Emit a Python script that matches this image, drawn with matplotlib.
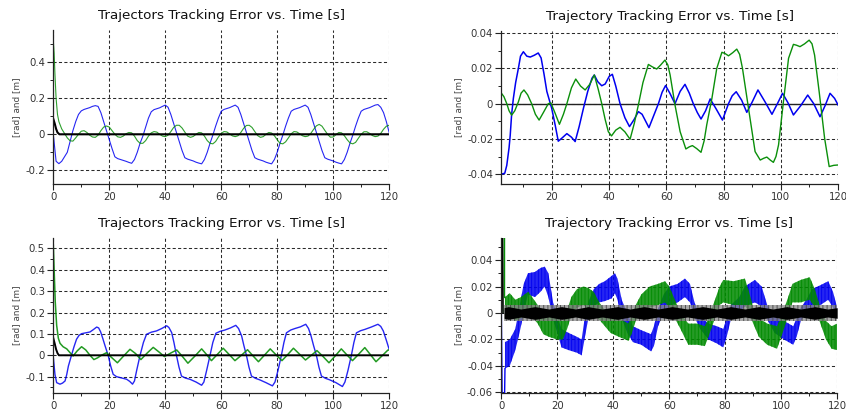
import numpy as np
import matplotlib
matplotlib.use("Agg")
import matplotlib.pyplot as plt
from matplotlib.ticker import MultipleLocator, FuncFormatter

plt.rcParams['font.family'] = ['DejaVu Sans']
plt.rcParams['axes.unicode_minus'] = False
plt.rcParams['hatch.linewidth'] = 0.6

TITLE_L = "Trajectors Tracking Error vs. Time [s]"
TITLE_R = "Trajectory Tracking Error vs. Time [s]"
YLABEL = "[rad] and [m]"

# ---------------- top-left panel ----------------
tl_blue_t = list(range(0, 121))
tl_blue_v = [0.0, -0.15, -0.163, -0.15, -0.125, -0.10, -0.04, 0.02, 0.07, 0.11,
             0.13, 0.138, 0.143, 0.148, 0.155, 0.159, 0.155, 0.12, 0.07, 0.02,
             -0.03, -0.08, -0.125, -0.135, -0.14, -0.145, -0.15, -0.156, -0.161, -0.14,
             -0.10, -0.05, -0.01, 0.04, 0.09, 0.125, 0.137, 0.142, 0.147, 0.155,
             0.162, 0.15, 0.11, 0.06, 0.01, -0.04, -0.09, -0.13, -0.138, -0.143,
             -0.148, -0.155, -0.16, -0.164, -0.14, -0.10, -0.05, -0.005, 0.045, 0.09,
             0.128, 0.138, 0.143, 0.148, 0.155, 0.162, 0.15, 0.11, 0.06, 0.01,
             -0.04, -0.09, -0.13, -0.138, -0.143, -0.148, -0.155, -0.16, -0.164, -0.14,
             -0.10, -0.05, -0.005, 0.045, 0.09, 0.128, 0.138, 0.143, 0.148, 0.155,
             0.162, 0.15, 0.11, 0.06, 0.01, -0.04, -0.09, -0.13, -0.138, -0.143,
             -0.148, -0.155, -0.16, -0.164, -0.14, -0.10, -0.05, -0.005, 0.045, 0.09,
             0.128, 0.138, 0.143, 0.148, 0.155, 0.162, 0.165, 0.15, 0.12, 0.07, 0.01]

tl_green_t = [0, 0.3, 0.6, 1.0, 1.5, 2] + list(range(3, 121))
tl_green_v = [0.52, 0.45, 0.33, 0.2, 0.11, 0.07,
              0.03, 0.005, -0.02, -0.036, -0.038, -0.02, 0.0, 0.017, 0.02, 0.01,
              -0.005, -0.015, -0.017, -0.005, 0.02, 0.04, 0.046, 0.04, 0.02, 0.0,
              -0.014, -0.017, -0.01, 0.003, 0.01, 0.008, -0.01, -0.035, -0.05, -0.05,
              -0.035, -0.01, 0.008, 0.015, 0.012, 0.0, -0.01, -0.013, -0.005, 0.015,
              0.038, 0.05, 0.05, 0.035, 0.012, -0.01, -0.017, -0.012, 0.0, 0.01,
              0.008, -0.01, -0.035, -0.05, -0.053, -0.04, -0.015, 0.005, 0.015, 0.013,
              0.002, -0.009, -0.013, -0.008, 0.01, 0.033, 0.049, 0.05, 0.038, 0.015,
              -0.007, -0.017, -0.013, 0.0, 0.01, 0.007, -0.008, -0.03, -0.05, -0.053,
              -0.042, -0.02, 0.003, 0.015, 0.013, 0.003, -0.008, -0.013, -0.01, 0.005,
              0.027, 0.047, 0.055, 0.045, 0.022, 0.0, -0.016, -0.015, -0.002, 0.01,
              0.008, -0.008, -0.03, -0.048, -0.053, -0.045, -0.022, 0.0, 0.014, 0.014,
              0.005, -0.007, -0.013, -0.01, 0.005, 0.028, 0.045, 0.05]

tl_black_t = [0, 0.5, 1.0, 1.5, 2.2, 120]
tl_black_v = [0.085, 0.06, 0.03, 0.01, 0.0, 0.0]

# ---------------- top-right panel ----------------
tr_blue_t = [2.3, 3.5, 4.2, 5.0, 5.4, 5.9, 6.5, 7.3, 8.25, 9.0, 10.0, 11.2, 12.4, 13.8, 15.2,
             16.2, 17.2, 18.2, 19.9, 21.1, 22.2, 23.5, 25.2, 26.8, 28.1, 29.5, 31.0, 32.5,
             34.0, 34.8, 36.0, 37.4, 38.6, 40.0, 41.1, 42.3, 43.8, 45.5, 47.1, 48.7, 50.2,
             51.5, 53.9, 55.5, 57.2, 58.5, 59.7, 61.2, 63.0, 64.8, 66.5, 68.0, 69.4, 70.8,
             72.1, 73.7, 75.3, 77.4, 79.6, 81.7, 83.0, 84.4, 86.3, 88.1, 90.0, 92.0, 94.5,
             96.9, 98.8, 100.6, 102.5, 104.4, 107.0, 109.4, 111.5, 113.7, 115.5, 117.2,
             118.8, 120.0]
tr_blue_v = [-0.040, -0.0395, -0.035, -0.025, -0.018, -0.006, 0.003, 0.012, 0.020, 0.027,
             0.0295, 0.027, 0.0265, 0.0275, 0.0288, 0.026, 0.017, 0.007, -0.0026, -0.012,
             -0.0213, -0.0195, -0.017, -0.019, -0.0215, -0.013, -0.0026, 0.007, 0.0145,
             0.0163, 0.0125, 0.0102, 0.0112, 0.0155, 0.0167, 0.010, 0.0, -0.008, -0.013,
             -0.009, -0.0045, -0.006, -0.0136, -0.007, 0.0, 0.0065, 0.0103, 0.006, 0.0,
             0.007, 0.011, 0.006, 0.0, -0.005, -0.0087, -0.004, 0.0027, -0.003, -0.0093,
             0.0, 0.0045, 0.0068, 0.002, -0.0049, 0.001, 0.0078, 0.001, -0.006, 0.0,
             0.0059, 0.0005, -0.0064, -0.001, 0.0049, 0.0, -0.0074, -0.001, 0.0059,
             0.003, -0.0007]

tr_green_t = [2.3, 3.2, 4.2, 5.0, 5.9, 7.0, 8.25, 9.2, 10.2, 11.5, 12.9, 14.2, 15.5, 17.0,
              18.7, 19.6, 21.0, 22.6, 24.0, 25.2, 26.8, 28.3, 30.0, 31.6, 33.2, 34.8, 36.2,
              37.4, 38.6, 39.7, 40.8, 42.3, 43.8, 45.5, 47.3, 48.8, 50.2, 51.8, 53.7, 55.0,
              56.6, 58.0, 59.5, 60.5, 61.3, 63.0, 64.8, 66.8, 68.0, 69.1, 70.6, 72.1, 73.2,
              74.1, 75.9, 77.6, 79.4, 80.5, 81.7, 83.2, 84.6, 85.6, 86.6, 88.7, 91.0, 92.8,
              94.0, 95.1, 96.3, 97.4, 98.3, 99.2, 100.9, 102.7, 104.4, 105.5, 106.7, 108.3,
              109.9, 110.9, 111.8, 113.4, 115.3, 116.9, 118.5, 120.0]
tr_green_v = [0.006, 0.004, 0.0, -0.004, -0.0065, -0.004, 0.001, 0.006, 0.0078, 0.005, 0.0,
              -0.006, -0.0093, -0.005, 0.0, 0.0005, -0.005, -0.0117, -0.006, 0.0, 0.009,
              0.014, 0.01, 0.0078, 0.011, 0.0163, 0.008, 0.0, -0.009, -0.0159, -0.0183,
              -0.015, -0.0134, -0.016, -0.0202, -0.011, -0.0007, 0.012, 0.0223, 0.021,
              0.0197, 0.022, 0.0248, 0.022, 0.0163, -0.0007, -0.0159, -0.0257, -0.0245,
              -0.0238, -0.0255, -0.0276, -0.021, -0.012, 0.003, 0.020, 0.0292, 0.0285,
              0.0272, 0.029, 0.031, 0.028, 0.020, -0.0026, -0.0272, -0.032, -0.031, -0.0303,
              -0.032, -0.0333, -0.030, -0.0234, 0.0011, 0.0258, 0.0337, 0.0332, 0.0324,
              0.034, 0.0361, 0.034, 0.0276, 0.0068, -0.0196, -0.0357, -0.035, -0.0348]

tr_black_t = [2.3, 120]
tr_black_v = [0.0, 0.0]

# ---------------- bottom-left panel ----------------
bl_blue_t = [0, 0.6, 1.2, 2.4, 3.3, 4.2, 4.8, 5.4, 6.5, 7.4, 8.3, 9.2, 10.1, 11.6, 13.1, 14.3,
             15.5, 16.2, 16.9, 17.7, 18.5, 19.6, 20.5, 21.4, 22.6, 23.8, 26.2, 27.3, 28.3,
             29.0, 29.8, 31.0, 32.2, 33.3, 35.0, 36.9, 38.7, 40.5, 41.3, 42.3, 43.1, 44.0,
             44.9, 45.8, 47.3, 48.8, 51.0, 53.0, 53.8, 54.8, 56.0, 57.0, 58.1, 59.6, 61.3,
             63.3, 65.2, 66.2, 67.3, 68.1, 69.0, 69.9, 70.8, 72.3, 73.8, 76.0, 78.3, 79.2,
             80.3, 81.5, 82.4, 83.3, 84.8, 86.3, 88.3, 90.2, 91.2, 92.1, 93.0, 94.0, 94.9,
             95.8, 97.3, 98.8, 101.0, 103.3, 104.2, 105.3, 106.5, 107.4, 108.3, 109.8, 111.3,
             113.6, 116.0, 117.0, 117.9, 119.0, 120.0]
bl_blue_v = [-0.01, -0.09, -0.128, -0.135, -0.13, -0.12, -0.09, -0.05, 0.0, 0.04, 0.075, 0.093,
             0.101, 0.105, 0.109, 0.12, 0.132, 0.128, 0.11, 0.078, 0.044, 0.0, -0.05, -0.089,
             -0.1, -0.104, -0.112, -0.122, -0.135, -0.12, -0.07, 0.0, 0.06, 0.098, 0.108,
             0.114, 0.125, 0.138, 0.13, 0.106, 0.06, 0.0, -0.055, -0.097, -0.107, -0.112,
             -0.125, -0.14, -0.125, -0.07, 0.0, 0.06, 0.103, 0.112, 0.118, 0.128, 0.14, 0.125,
             0.09, 0.045, 0.0, -0.055, -0.097, -0.108, -0.115, -0.128, -0.143, -0.125, -0.07,
             0.0, 0.06, 0.105, 0.118, 0.125, 0.133, 0.145, 0.125, 0.09, 0.045, 0.0, -0.055,
             -0.097, -0.108, -0.115, -0.128, -0.146, -0.125, -0.07, 0.0, 0.06, 0.105, 0.115,
             0.121, 0.132, 0.145, 0.135, 0.114, 0.07, 0.028]

bl_green_t = [0, 0.3, 0.7, 1.2, 1.8, 2.4, 3.5, 4.8, 6.0, 7.1, 8.5, 10.1, 11.6, 13.1, 14.5,
              15.8, 17.2, 19.0, 20.8, 22.9, 25.0, 27.4, 29.4, 31.3, 33.5, 35.7, 37.8, 39.7,
              41.9, 44.1, 46.1, 48.1, 50.5, 53.0, 54.8, 56.5, 58.6, 60.7, 62.8, 64.9, 67.2,
              69.4, 71.3, 73.3, 75.4, 77.5, 79.6, 81.7, 83.8, 85.8, 88.0, 90.1, 92.2, 94.2,
              96.4, 98.5, 100.8, 102.9, 104.9, 106.9, 109.1, 111.3, 113.3, 115.3, 117.5,
              119.6, 120.0]
bl_green_v = [0.515, 0.4, 0.25, 0.14, 0.08, 0.056, 0.04, 0.03, 0.012, -0.003, 0.02, 0.04,
              0.025, 0.0, -0.02, -0.012, 0.0, 0.012, -0.01, -0.035, -0.005, 0.028, 0.008,
              -0.02, 0.01, 0.037, 0.015, -0.006, 0.01, 0.025, -0.005, -0.037, -0.005, 0.03,
              0.003, -0.025, 0.004, 0.033, 0.004, -0.025, 0.0, 0.026, -0.002, -0.03, 0.0,
              0.03, 0.002, -0.025, 0.004, 0.033, 0.005, -0.022, 0.0, 0.022, -0.006, -0.035,
              -0.002, 0.03, 0.002, -0.025, 0.005, 0.036, 0.003, -0.03, -0.002, 0.025, 0.024]

bl_black_t = [0, 0.5, 1.0, 1.5, 2.0, 120]
bl_black_v = [0.08, 0.055, 0.028, 0.01, 0.0, 0.0]

# ---------------- bottom-right panel (chattering bands) ----------------
br_blue_spike_t = [0, 0.3, 1.1, 1.3]
br_blue_spike_v = [0.0, -0.07, -0.07, -0.042]
br_blue_t = [1.3, 3, 5, 6.5, 8, 9.5, 12, 14, 15.5, 16.8, 18.5, 20, 21.5, 24, 27, 28.7, 29.7,
             31, 33, 35, 37, 39.4, 40.6, 41.5, 43, 45, 47, 50, 53.5, 54.5, 56, 58, 60, 63,
             65.6, 67.4, 69, 71, 74, 77, 79.3, 80.5, 82, 85, 87, 90.6, 93, 95, 97.6, 101,
             104.3, 105.5, 107, 109, 111, 114, 116.8, 118.5, 120]
br_blue_lo = [-0.042, -0.04, -0.028, -0.015, 0.0, 0.014, 0.012, 0.016, 0.02, 0.012, -0.005,
              -0.015, -0.026, -0.028, -0.03, -0.032, -0.02, -0.005, 0.005, 0.008, 0.009,
              0.011, 0.015, 0.01, -0.004, -0.015, -0.022, -0.024, -0.029, -0.025, -0.01, 0.0,
              0.005, 0.008, 0.012, 0.008, -0.003, -0.012, -0.02, -0.023, -0.026, -0.018,
              -0.005, 0.0, 0.005, 0.008, 0.005, -0.005, -0.015, -0.02, -0.024, -0.018,
              -0.006, 0.0, 0.004, 0.006, 0.01, 0.004, -0.002]
br_blue_hi = [-0.022, -0.02, -0.012, 0.005, 0.022, 0.03, 0.031, 0.034, 0.035, 0.03, 0.008,
              -0.002, -0.012, -0.015, -0.018, -0.02, -0.005, 0.008, 0.018, 0.022, 0.024,
              0.028, 0.03, 0.026, 0.01, 0.0, -0.01, -0.013, -0.016, -0.01, 0.003, 0.014,
              0.02, 0.022, 0.026, 0.022, 0.008, -0.002, -0.008, -0.01, -0.012, -0.004,
              0.006, 0.012, 0.02, 0.025, 0.02, 0.006, -0.003, -0.006, -0.01, -0.004, 0.004,
              0.01, 0.018, 0.021, 0.024, 0.016, 0.004]

br_green_spike_t = [0.3, 1.1]
br_green_spike_hi = [0.07, 0.07]
br_green_t = [1.3, 3, 5, 7, 9.6, 11, 13, 15, 17, 20, 22, 23.5, 25, 27, 29.3, 31, 33, 35, 37,
              39, 42, 45.4, 46.5, 48, 50, 53, 56, 58.5, 60, 62, 64, 66.8, 70, 72.7, 74, 76,
              78, 79.3, 83, 87, 88.5, 90, 92, 95, 98.5, 100.5, 102.5, 104, 107, 110.2, 112,
              114, 116, 118, 120]
br_green_lo = [-0.005, -0.002, -0.006, -0.004, 0.0, -0.003, -0.008, -0.016, -0.018, -0.02,
               -0.02, -0.012, -0.002, 0.004, 0.006, 0.003, -0.001, -0.005, -0.01, -0.015,
               -0.018, -0.021, -0.016, -0.006, 0.0, 0.004, 0.006, 0.008, 0.004, -0.004,
               -0.012, -0.024, -0.024, -0.025, -0.018, -0.006, 0.006, 0.008, 0.006, 0.006,
               0.0, -0.008, -0.018, -0.024, -0.027, -0.015, -0.002, 0.008, 0.008, 0.01,
               0.004, -0.008, -0.02, -0.027, -0.028]
br_green_hi = [0.012, 0.015, 0.01, 0.012, 0.016, 0.012, 0.006, 0.0, -0.002, -0.004, -0.006,
               0.002, 0.012, 0.018, 0.02, 0.019, 0.016, 0.008, 0.002, -0.002, -0.004, -0.008,
               -0.002, 0.006, 0.014, 0.02, 0.022, 0.024, 0.02, 0.01, 0.0, -0.008, -0.008,
               -0.01, -0.004, 0.008, 0.02, 0.025, 0.024, 0.026, 0.016, 0.004, -0.004, -0.008,
               -0.01, 0.0, 0.012, 0.022, 0.025, 0.027, 0.018, 0.004, -0.006, -0.01, -0.008]

br_black_spike_t = [0, 0.15, 0.35, 0.6]
br_black_spike_v = [0.0, 0.07, 0.07, 0.0]
br_black_t = [1.0, 120]
br_black_outer = [0.0062, 0.0062]
br_black_core_t = [1, 2.5, 7, 12, 17, 21.5, 26.5, 31, 36, 41.5, 46, 51, 56, 61, 66.5, 72,
                   77, 82, 87, 92, 97, 102, 107, 112, 116.5, 120]
br_black_core = [0.004, 0.0048, 0.003, 0.0048, 0.003, 0.0048, 0.003, 0.0048, 0.003,
                 0.0048, 0.003, 0.0048, 0.003, 0.0048, 0.003, 0.0048, 0.003, 0.0048,
                 0.003, 0.0048, 0.003, 0.0048, 0.003, 0.0048, 0.003, 0.004]

BLUE = '#0000f0'
GREEN = '#0a8f0a'
TXT = '#333333'


def fmt(v, pos):
    if abs(v) < 1e-12:
        return '0'
    return f"{round(v, 6):g}"


def style(ax, title, xlim, ylim, ymaj, ymin):
    ax.set_xlim(*xlim)
    ax.set_ylim(*ylim)
    ax.xaxis.set_major_locator(MultipleLocator(20))
    ax.xaxis.set_minor_locator(MultipleLocator(10))
    ax.yaxis.set_major_locator(MultipleLocator(ymaj))
    ax.yaxis.set_minor_locator(MultipleLocator(ymin))
    ax.xaxis.set_major_formatter(FuncFormatter(fmt))
    ax.yaxis.set_major_formatter(FuncFormatter(fmt))
    for s in ('top', 'right'):
        ax.spines[s].set_visible(False)
    for s in ('left', 'bottom'):
        ax.spines[s].set_color('#222222')
        ax.spines[s].set_linewidth(0.9)
    ax.tick_params(which='major', direction='out', length=4, width=0.8,
                   colors='#222222', labelcolor=TXT, labelsize=7.3, pad=2)
    ax.tick_params(which='minor', direction='out', length=2.5, width=0.7, colors='#222222')
    ax.grid(True, which='major', linestyle=(0, (3, 2.2)), color='#2a2a2a', linewidth=0.75)
    ax.set_axisbelow(True)
    ax.set_title(title, fontsize=9.7, color='#111111', pad=8)
    ax.set_ylabel(YLABEL, fontsize=6.4, color='#444444', labelpad=3)
    ax.set_facecolor('white')


def chatter_band(ax, t, lo, hi, color):
    ax.fill_between(t, lo, hi, facecolor=color, alpha=0.85, lw=0)
    ax.fill_between(t, lo, hi, facecolor='none', edgecolor=color, hatch='|||||', lw=0)


fig = plt.figure(figsize=(8.46, 4.12), dpi=100)
fig.patch.set_facecolor('white')

ax1 = fig.add_axes([0.063, 0.5534, 0.397, 0.3738])
ax2 = fig.add_axes([0.5926, 0.5534, 0.398, 0.3714])
ax3 = fig.add_axes([0.063, 0.0468, 0.397, 0.3748])
ax4 = fig.add_axes([0.5926, 0.0468, 0.397, 0.3748])

# top-left
ax1.plot(tl_blue_t, tl_blue_v, color=BLUE, lw=0.8, alpha=0.85)
ax1.plot(tl_green_t, tl_green_v, color=GREEN, lw=0.8, alpha=0.85)
ax1.plot(tl_black_t, tl_black_v, color='black', lw=1.5)
style(ax1, TITLE_L, (0, 120), (-0.276, 0.579), 0.2, 0.1)

# top-right
ax2.plot(tr_black_t, tr_black_v, color='#222222', lw=1.0)
ax2.plot(tr_blue_t, tr_blue_v, color=BLUE, lw=1.1)
ax2.plot(tr_green_t, tr_green_v, color=GREEN, lw=1.0)
style(ax2, TITLE_R, (2.3, 120), (-0.0456, 0.0413), 0.02, 0.01)

# bottom-left
ax3.plot(bl_blue_t, bl_blue_v, color=BLUE, lw=1.0, alpha=0.85)
ax3.plot(bl_green_t, bl_green_v, color=GREEN, lw=1.1, alpha=0.9)
ax3.plot(bl_black_t, bl_black_v, color='black', lw=1.4)
style(ax3, TITLE_L, (0, 120), (-0.175, 0.547), 0.1, 0.05)

# bottom-right
ax4.plot(br_blue_spike_t, br_blue_spike_v, color=BLUE, lw=1.0)
chatter_band(ax4, br_blue_t, br_blue_lo, br_blue_hi, BLUE)
ax4.fill_between(br_green_spike_t, [0, 0], br_green_spike_hi, color='#8aa88a', lw=0)
ax4.plot([1.1, 1.1, 1.3], [0.07, 0.012, 0.012], color=GREEN, lw=1.0)
chatter_band(ax4, br_green_t, br_green_lo, br_green_hi, '#008a00')
ax4.fill_between(br_black_t, [-v for v in br_black_outer], br_black_outer,
                 color='#8a8a8a', lw=0, alpha=0.75)
ax4.fill_between(br_black_t, [-v for v in br_black_outer], br_black_outer,
                 facecolor='none', edgecolor='#444444', hatch='||||', lw=0)
ax4.fill_between(br_black_core_t, [-v for v in br_black_core], br_black_core,
                 color='black', lw=0)
ax4.plot(br_black_spike_t, br_black_spike_v, color='black', lw=1.0)
style(ax4, TITLE_R, (0, 120), (-0.0602, 0.0564), 0.02, 0.01)

fig.savefig('out.png', dpi=100, facecolor='white')
